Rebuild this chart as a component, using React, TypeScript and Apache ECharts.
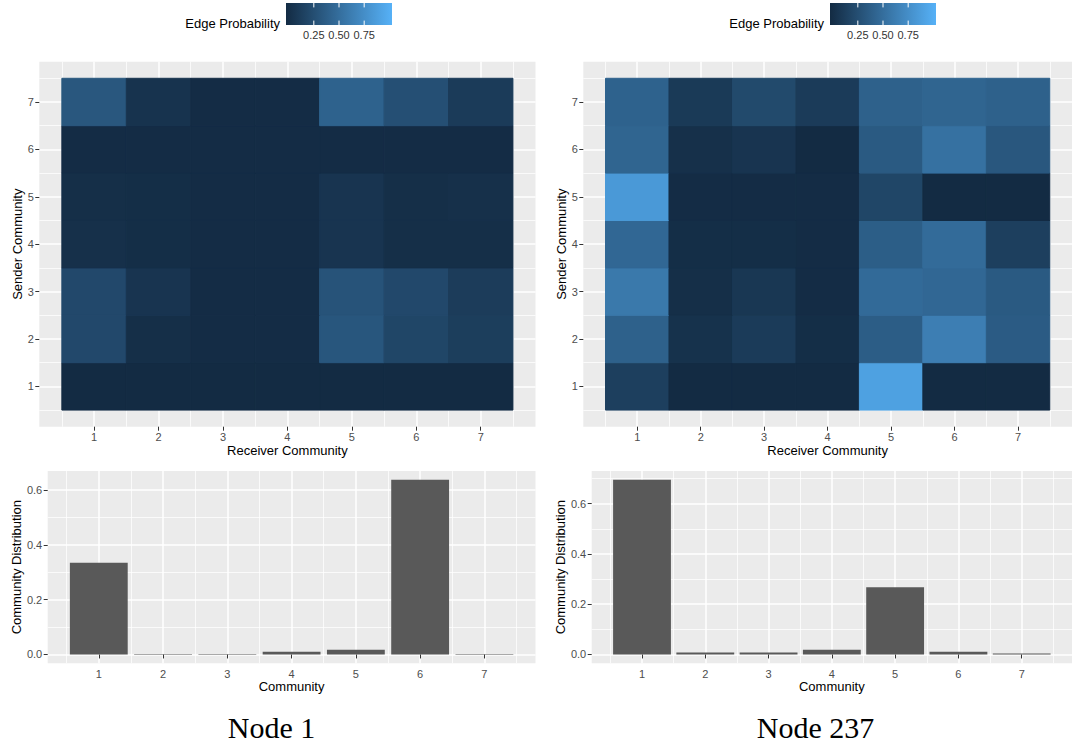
import React, { useEffect, useRef } from "react";
import * as echarts from "echarts";

// ---------- data ----------
const communities = [1, 2, 3, 4, 5, 6, 7];
const panelTitles = ["Node 1", "Node 237"];

// Edge probabilities: rows = sender community 1..7, columns = receiver community 1..7
const node1Edge = [
  [0.0, 0.0, 0.0, 0.0, 0.0, 0.0, 0.0],
  [0.22, 0.03, 0.01, 0.01, 0.32, 0.2, 0.14],
  [0.22, 0.07, 0.01, 0.01, 0.3, 0.22, 0.13],
  [0.04, 0.02, 0.01, 0.01, 0.07, 0.03, 0.03],
  [0.03, 0.02, 0.01, 0.01, 0.07, 0.03, 0.04],
  [0.01, 0.01, 0.01, 0.01, 0.01, 0.01, 0.01],
  [0.33, 0.06, 0.01, 0.01, 0.41, 0.27, 0.12],
];
const node237Edge = [
  [0.15, 0.0, 0.0, 0.0, 0.88, 0.0, 0.0],
  [0.4, 0.05, 0.12, 0.02, 0.37, 0.62, 0.36],
  [0.58, 0.03, 0.09, 0.01, 0.47, 0.45, 0.35],
  [0.45, 0.02, 0.02, 0.01, 0.38, 0.48, 0.15],
  [0.82, 0.01, 0.01, 0.01, 0.2, 0.0, 0.0],
  [0.43, 0.04, 0.07, 0.0, 0.35, 0.52, 0.33],
  [0.41, 0.11, 0.23, 0.12, 0.4, 0.43, 0.4],
];

// Community distribution per node
const node1Dist = [0.335, 0.002, 0.002, 0.01, 0.017, 0.637, 0.002];
const node237Dist = [0.695, 0.008, 0.008, 0.019, 0.268, 0.011, 0.004];

const probLimits = [0, 1];
const legendBreaks = [0.25, 0.5, 0.75];
const distTicks = [0, 0.2, 0.4, 0.6];

// ---------- styling ----------
const FONT = '"Liberation Sans", Arial, Helvetica, sans-serif';
const LOW = "#132B43";
const HIGH = "#56B1F7";
const PANEL_BG = "#EBEBEB";
const TICK_FS = 11;
const TITLE_FS = 13;
const OFFSETS = [0, 544];
const HEAT = { left: 39.3, top: 61.7, width: 496.2, height: 365 };
const BAR = { left: 47.7, top: 471.1, width: 487.8, height: 192.1 };

function valueAxis(
  gridIndex: number,
  min: number,
  max: number,
  step: number,
  ticks: number[],
  fmt: (v: number) => string,
  name: string,
  nameGap: number,
  labelMargin: number
) {
  return {
    type: "value",
    gridIndex,
    min,
    max,
    minInterval: step,
    maxInterval: step,
    name,
    nameLocation: "middle",
    nameGap,
    nameTextStyle: { fontFamily: FONT, fontSize: TITLE_FS, color: "#000000" },
    axisLine: { show: false },
    axisTick: {
      show: true,
      customValues: ticks,
      length: 4,
      lineStyle: { color: "#333333", width: 1 },
    },
    axisLabel: {
      customValues: ticks,
      color: "#4D4D4D",
      fontFamily: FONT,
      fontSize: TICK_FS,
      margin: labelMargin,
      formatter: (v: number) => fmt(v),
    },
    splitLine: { show: true, lineStyle: { color: "#FFFFFF", width: 1.5 } },
    minorTick: { show: false, splitNumber: 2 },
    minorSplitLine: { show: true, lineStyle: { color: "#FFFFFF", width: 0.75 } },
  };
}

function buildOption() {
  const edges = [node1Edge, node237Edge];
  const dists = [node1Dist, node237Dist];
  const n = communities.length;
  // ggplot-like 5% expansion
  const heatLo = communities[0] - 0.5;
  const heatHi = communities[n - 1] + 0.5;
  const heatPad = 0.05 * (heatHi - heatLo);
  const barLo = communities[0] - 0.45;
  const barHi = communities[n - 1] + 0.45;
  const barPad = 0.05 * (barHi - barLo);

  const grid: any[] = [];
  const xAxis: any[] = [];
  const yAxis: any[] = [];
  const series: any[] = [];
  const graphic: any[] = [];

  OFFSETS.forEach((off, p) => {
    grid.push({
      left: HEAT.left + off,
      top: HEAT.top,
      width: HEAT.width,
      height: HEAT.height,
      show: true,
      backgroundColor: PANEL_BG,
      borderWidth: 0,
    });
    grid.push({
      left: BAR.left + off,
      top: BAR.top,
      width: BAR.width,
      height: BAR.height,
      show: true,
      backgroundColor: PANEL_BG,
      borderWidth: 0,
    });
    const gh = 2 * p;
    const gb = 2 * p + 1;
    const intFmt = (v: number) => String(Math.round(v));
    xAxis.push(
      valueAxis(gh, heatLo - heatPad, heatHi + heatPad, 1, communities, intFmt, "Receiver Community", 16, 5)
    );
    yAxis.push(
      valueAxis(gh, heatLo - heatPad, heatHi + heatPad, 1, communities, intFmt, "Sender Community", 15, 5.5)
    );
    const dMax = Math.max(...dists[p]);
    xAxis.push(valueAxis(gb, barLo - barPad, barHi + barPad, 1, communities, intFmt, "Community", 16, 5));
    yAxis.push(
      valueAxis(gb, -0.05 * dMax, 1.05 * dMax, 0.2, distTicks, (v) => v.toFixed(1), "Community Distribution", 24, 5.5)
    );

    const tiles: number[][] = [];
    edges[p].forEach((row, si) => {
      row.forEach((v, ri) => {
        tiles.push([communities[ri], communities[si], v]);
      });
    });
    series.push({
      type: "custom",
      name: "edge" + p,
      xAxisIndex: gh,
      yAxisIndex: gh,
      data: tiles,
      encode: { x: 0, y: 1 },
      renderItem: (params: any, api: any) => {
        const x = api.value(0);
        const y = api.value(1);
        const a = api.coord([x - 0.5, y + 0.5]);
        const b = api.coord([x + 0.5, y - 0.5]);
        const c = api.visual("color");
        return {
          type: "rect",
          shape: { x: a[0], y: a[1], width: b[0] - a[0], height: b[1] - a[1] },
          style: { fill: c, stroke: c, lineWidth: 1 },
        };
      },
    });
    const barW = (0.9 * BAR.width) / (barHi + barPad - (barLo - barPad));
    series.push({
      type: "bar",
      name: "dist" + p,
      xAxisIndex: gb,
      yAxisIndex: gb,
      data: communities.map((c, i) => [c, dists[p][i]]),
      barWidth: barW,
      itemStyle: { color: "#595959" },
    });

    // colourbar legend
    const barLeft = 286 + off;
    const barTop = 3;
    const barWidth = 106;
    const barHeight = 22;
    const inset = barWidth / 40;
    const toX = (v: number) =>
      barLeft + inset + ((v - probLimits[0]) / (probLimits[1] - probLimits[0])) * (barWidth - 2 * inset);
    graphic.push({
      type: "text",
      x: barLeft - 6,
      y: 23,
      style: {
        text: "Edge Probability",
        fontFamily: FONT,
        fontSize: TITLE_FS,
        fill: "#000000",
        align: "right",
        verticalAlign: "middle",
      },
    });
    graphic.push({
      type: "rect",
      shape: { x: barLeft, y: barTop, width: barWidth, height: barHeight },
      style: {
        fill: {
          type: "linear",
          x: 0,
          y: 0,
          x2: 1,
          y2: 0,
          colorStops: [
            { offset: 0, color: LOW },
            { offset: 1, color: HIGH },
          ],
        },
      },
    });
    legendBreaks.forEach((b) => {
      const x = toX(b);
      graphic.push({
        type: "line",
        shape: { x1: x, y1: barTop, x2: x, y2: barTop + barHeight / 5 },
        style: { stroke: "#FFFFFF", lineWidth: 1 },
      });
      graphic.push({
        type: "line",
        shape: { x1: x, y1: barTop + barHeight - barHeight / 5, x2: x, y2: barTop + barHeight },
        style: { stroke: "#FFFFFF", lineWidth: 1 },
      });
      graphic.push({
        type: "text",
        x,
        y: 35,
        style: {
          text: b.toFixed(2),
          fontFamily: FONT,
          fontSize: TICK_FS,
          fill: "#333333",
          align: "center",
          verticalAlign: "middle",
        },
      });
    });

    graphic.push({
      type: "text",
      x: 271.5 + off,
      y: 727,
      style: {
        text: panelTitles[p],
        fontFamily: '"Liberation Serif", "Times New Roman", serif',
        fontSize: 30,
        fill: "#000000",
        align: "center",
        verticalAlign: "middle",
      },
    });
  });

  return {
    animation: false,
    backgroundColor: "#FFFFFF",
    grid,
    xAxis,
    yAxis,
    visualMap: [
      {
        type: "continuous",
        show: false,
        min: probLimits[0],
        max: probLimits[1],
        dimension: 2,
        seriesIndex: [0, 2],
        inRange: { color: [LOW, HIGH] },
      },
    ],
    series,
    graphic,
  };
}

export default function App() {
  const ref = useRef<HTMLDivElement>(null);
  useEffect(() => {
    if (!ref.current) return;
    const chart = echarts.init(ref.current, undefined, { renderer: "svg" });
    chart.setOption(buildOption() as any);
    return () => {
      chart.dispose();
    };
  }, []);
  return (
    <div
      ref={ref}
      style={{ position: "fixed", left: 0, top: 0, width: 1072, height: 747, background: "#FFFFFF" }}
    />
  );
}
